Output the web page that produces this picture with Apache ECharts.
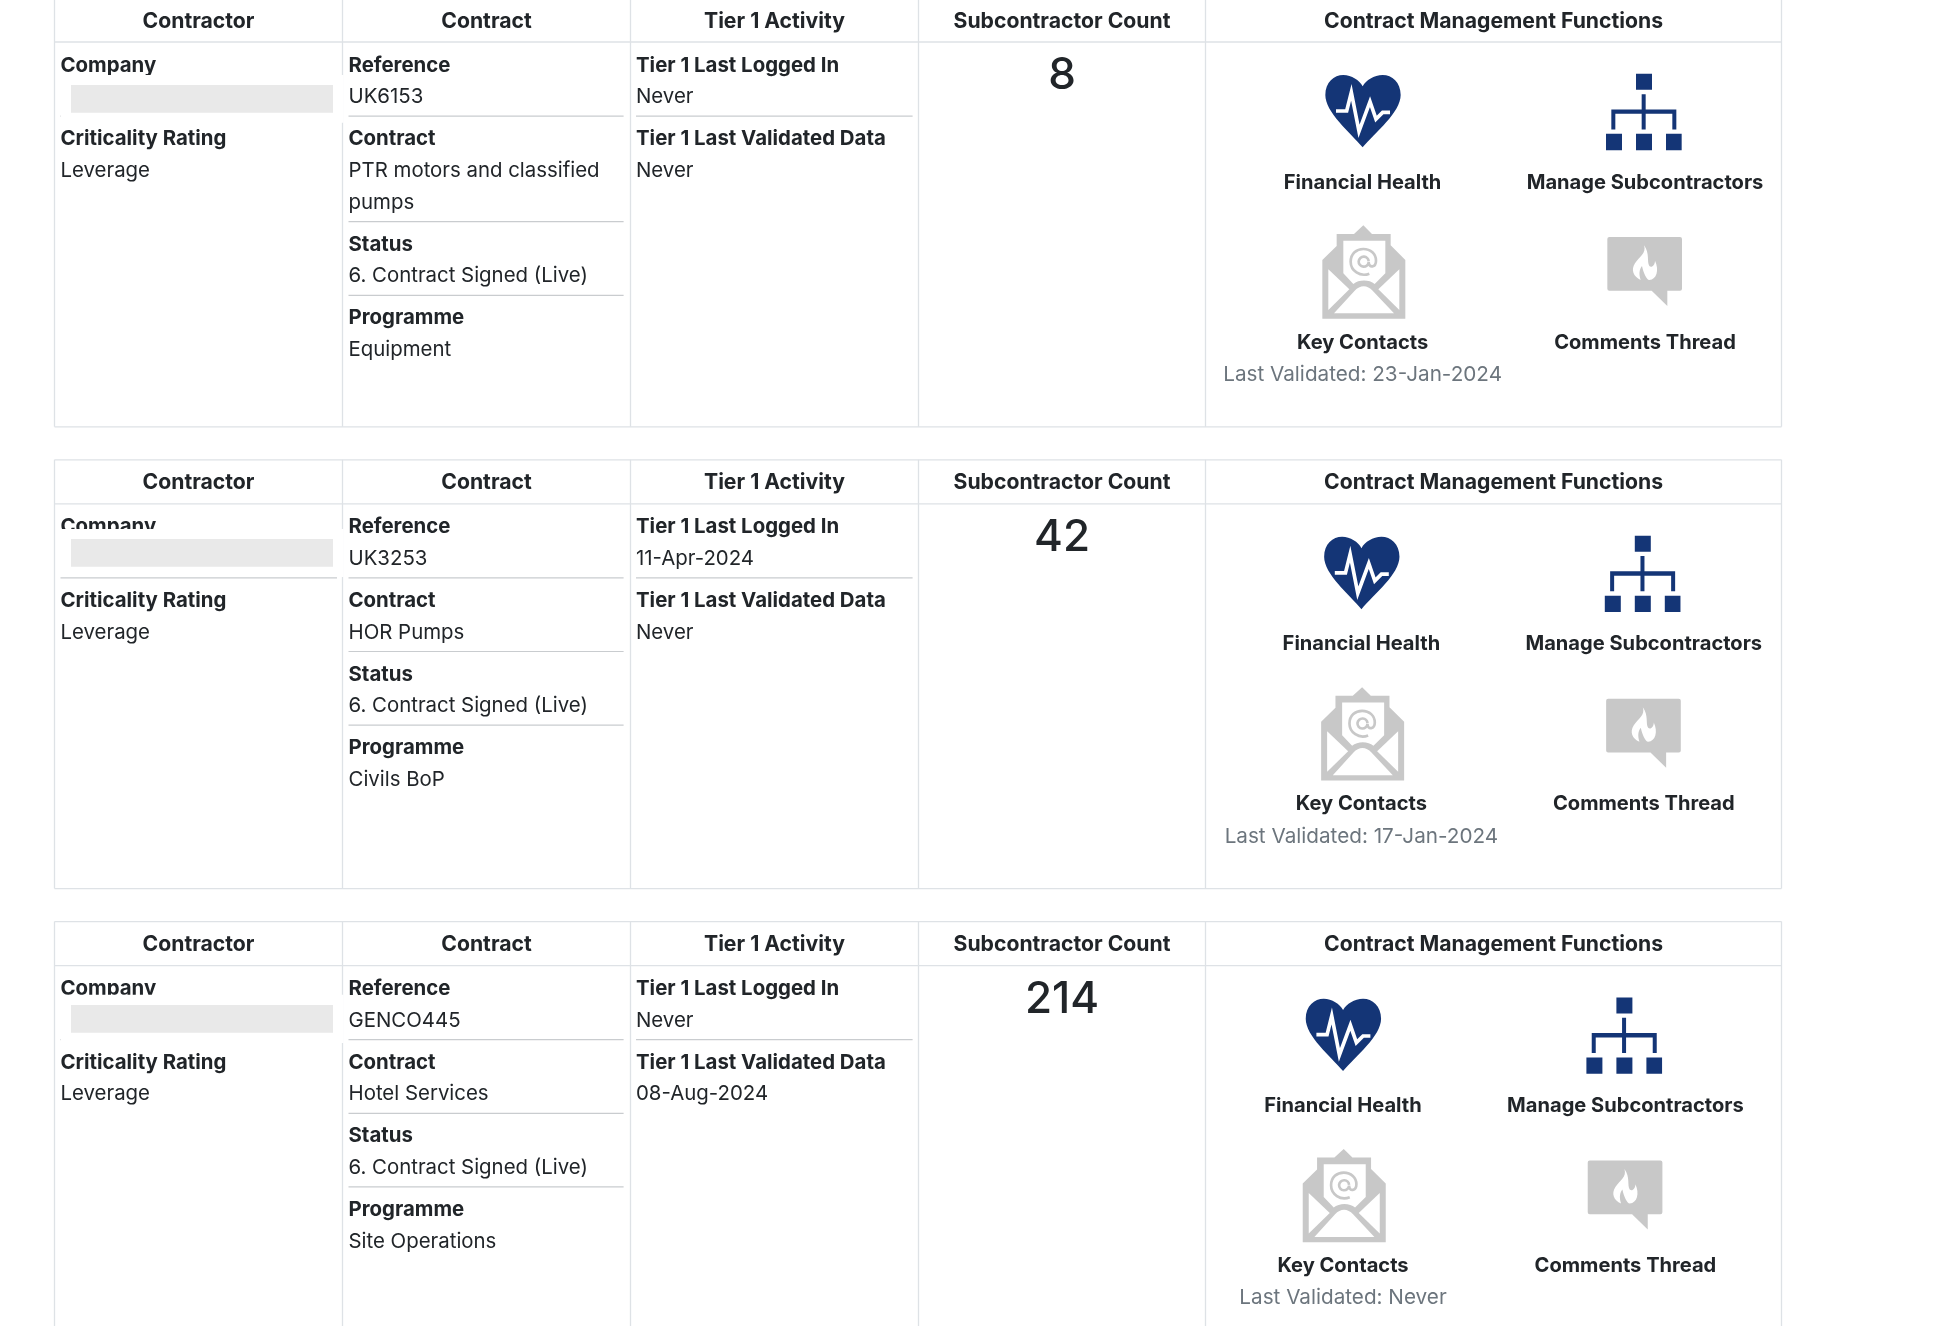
<!DOCTYPE html>
<html>
<head>
<meta charset="utf-8">
<title>Contract cards</title>
<script src="https://cdn.jsdelivr.net/npm/echarts@6/dist/echarts.min.js"></script>
<style>
  html, body { margin: 0; padding: 0; background: #fff; }
  #main { width: 1944px; height: 1326px; }
</style>
</head>
<body>
<div id="main"></div>
<script>
// table contents
const headers = ['Contractor', 'Contract', 'Tier 1 Activity', 'Subcontractor Count', 'Contract Management Functions'];
const references = ['UK6153', 'UK3253', 'GENCO445'];
const contracts = [['PTR motors and classified', 'pumps'], ['HOR Pumps'], ['Hotel Services']];
const statuses = ['6. Contract Signed (Live)', '6. Contract Signed (Live)', '6. Contract Signed (Live)'];
const programmes = ['Equipment', 'Civils BoP', 'Site Operations'];
const criticality = ['Leverage', 'Leverage', 'Leverage'];
const lastLoggedIn = ['Never', '11-Apr-2024', 'Never'];
const lastValidatedData = ['Never', 'Never', '08-Aug-2024'];
const subcontractorCounts = [8, 42, 214];
const keyContactsValidated = ['23-Jan-2024', '17-Jan-2024', 'Never'];

// page layout
const colX = [54.5, 342.5, 630.5, 918.5, 1205.5, 1781.5];
const rowStep = 461.8;
const rowTop = -2;
const headerH = 44;
const rowH = 428.8;
const rowDx = [0, -1.2, -19.6];
// white box sitting over the company cell, it clips the label and the rule
const maskTop = [75, 529, 994.7];
const maskBottom = [122.7, 577, 1043];
const redactTop = [85, 539, 1005];

const INK = '#212529', MUTED = '#6c757d', BORDER = '#dee2e6', RULE = '#c9cccf';
const NAVY = '#143576', GREY = '#c8c8c8';
const FONT = 'Inter, "Noto Sans", sans-serif';
const HEAD_SIZE = 21.2, LABEL_SIZE = 20.4, VALUE_SIZE = 20.4, FUNC_SIZE = 20.1;

// icons, drawn at 3x around their own crop origin
const ICON_PATHS = {
  heart: 'M158 245C120 200 46 140 46 88C46 50 72 28 100 28C125 28 148 44 158 62C168 44 192 28 218 28C246 28 272 50 272 88C272 140 196 200 158 245Z',
  pulse: 'M78 136L110 136L124 80L147 197L180 108L198 160L218 140L240 140',
  org: 'M108 25H156V73H108ZM125 86H137V132H229V192H217V145H137V192H125V145H46V192H34V132H125Z' +
    'M18 205H66V254H18ZM108 205H156V254H108ZM198 205H245V254H198Z',
  envelope: 'M160 16L186 42H242V76L286 120V296H37V120L80 78V42H132Z',
  envPaper: 'M100 62H226V160L194 192C178 178 146 178 130 192L100 160Z',
  envLeft: 'M55 148L118 208L55 270Z',
  envRight: 'M268 148L205 208L268 270Z',
  envBottom: 'M72 280L134 212C150 194 172 194 188 212L252 280Z',
  envAt: 'M178 161C150 172 122 152 122 125C122 100 140 87 160 87C182 87 198 102 198 122C198 142 176 146 176 126M176 126A15 15 0 1 1 176 124',
  bubble: 'M28 21H240Q246 21 246 27V176Q246 182 240 182H202V228L155 182H28Q22 182 22 176V27Q22 21 28 21Z',
  flame: 'M132 46C140 70 118 80 105 100C92 120 100 140 122 150C116 132 118 118 126 108C130 128 140 150 148 150C170 148 178 120 165 92C165 105 155 115 148 108C140 95 150 70 132 46Z'
};
Object.keys(ICON_PATHS).forEach(function (name) {
  echarts.graphic.registerShape(name, echarts.graphic.extendPath(ICON_PATHS[name]));
});

function text(str, x, y, opt) {
  return {
    type: 'text', silent: true,
    style: {
      text: String(str), x: x, y: y, fill: opt.fill || INK,
      font: (opt.weight || 400) + ' ' + (opt.size || VALUE_SIZE) + 'px ' + FONT,
      textAlign: opt.align || 'left', textVerticalAlign: 'middle',
      align: opt.align || 'left', verticalAlign: 'middle'
    }
  };
}
function line(x1, y1, x2, y2, color, w) {
  return {
    type: 'line', silent: true,
    shape: {x1: x1, y1: y1, x2: x2, y2: y2},
    style: {stroke: color, lineWidth: w || 1}
  };
}
function box(x, y, w, h, fill) {
  return {type: 'rect', silent: true, shape: {x: x, y: y, width: w, height: h}, style: {fill: fill}};
}
function icon(x, y, parts) {
  return {
    type: 'group', silent: true, x: x, y: y, scaleX: 1 / 3, scaleY: 1 / 3,
    children: parts.map(function (p) {
      return {
        type: p.shape, silent: true,
        style: p.stroke ? {fill: 'none', stroke: p.stroke, lineWidth: p.w} : {fill: p.fill}
      };
    })
  };
}

// label/value blocks flow down a column with rules between them
function stack(x, right, top, blocks) {
  const out = [];
  let y = top;
  blocks.forEach(function (b, i) {
    out.push(text(b[0], x, y + 1, {weight: 700, size: LABEL_SIZE}));
    y += 31.6;
    b[1].forEach(function (v, j) {
      if (j > 0) y += 32;
      out.push(text(v, x, y + 1, {}));
    });
    y += 20;
    if (i < blocks.length - 1) out.push(line(x, y, right, y, RULE, 1.2));
    y += 22;
  });
  return out;
}

function buildRow(i) {
  const dy = rowStep * i;
  const top = rowTop + dy;
  const head = top + headerH;
  const bottom = top + rowH;
  const dx = rowDx[i];
  let els = [];

  colX.forEach(function (x) { els.push(line(x, top, x, bottom, BORDER, 1.3)); });
  els.push(line(colX[0], top, colX[5], top, BORDER, 1.3));
  els.push(line(colX[0], head, colX[5], head, BORDER, 1.3));
  els.push(line(colX[0], bottom, colX[5], bottom, BORDER, 1.3));

  headers.forEach(function (h, c) {
    els.push(text(h, (colX[c] + colX[c + 1]) / 2, top + 23.2, {weight: 700, size: HEAD_SIZE, align: 'center'}));
  });

  const y0 = 64.5 + dy;
  els = els.concat(stack(60.5, 337, y0, [['Company', ['']], ['Criticality Rating', [criticality[i]]]]));
  // company cell mask and redaction
  els.push(box(61, maskTop[i], 282.5, maskBottom[i] - maskTop[i], '#fff'));
  els.push(box(71, redactTop[i], 262, 27.8, '#e9e9e9'));

  els = els.concat(stack(348.5, 623.6, y0, [
    ['Reference', [references[i]]],
    ['Contract', contracts[i]],
    ['Status', [statuses[i]]],
    ['Programme', [programmes[i]]]
  ]));
  els = els.concat(stack(636, 912.6, y0, [
    ['Tier 1 Last Logged In', [lastLoggedIn[i]]],
    ['Tier 1 Last Validated Data', [lastValidatedData[i]]]
  ]));

  els.push(text(subcontractorCounts[i], 1062, 76 + dy, {size: 44, weight: 500, align: 'center'}));

  els.push(icon(1310 + dx, 65.7 + dy, [{shape: 'heart', fill: NAVY}, {shape: 'pulse', stroke: '#fff', w: 11}]));
  els.push(icon(1600 + dx, 65.5 + dy, [{shape: 'org', fill: NAVY}]));
  els.push(icon(1310 + dx, 220 + dy, [
    {shape: 'envelope', fill: GREY}, {shape: 'envPaper', fill: '#fff'}, {shape: 'envLeft', fill: '#fff'},
    {shape: 'envRight', fill: '#fff'}, {shape: 'envBottom', fill: '#fff'}, {shape: 'envAt', stroke: GREY, w: 8}
  ]));
  els.push(icon(1600 + dx, 230 + dy, [{shape: 'bubble', fill: GREY}, {shape: 'flame', fill: '#fff'}]));

  const big = {weight: 700, size: FUNC_SIZE, align: 'center'};
  els.push(text('Financial Health', 1362.6 + dx, 182.5 + dy, big));
  els.push(text('Manage Subcontractors', 1645 + dx, 182.5 + dy, big));
  els.push(text('Key Contacts', 1362.6 + dx, 342.5 + dy, big));
  els.push(text('Comments Thread', 1645 + dx, 342.5 + dy, big));
  els.push(text('Last Validated: ' + keyContactsValidated[i], 1362.6 + dx, 374.5 + dy, {fill: MUTED, size: 20.7, align: 'center'}));
  return els;
}

const chart = echarts.init(document.getElementById('main'));
let elements = [];
references.forEach(function (r, i) { elements = elements.concat(buildRow(i)); });
chart.setOption({
  animation: false,
  backgroundColor: '#fff',
  graphic: {elements: elements}
});
</script>
</body>
</html>
